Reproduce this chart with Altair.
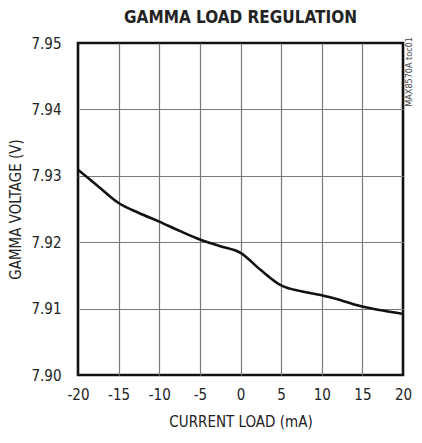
import altair as alt
import pandas as pd

current_ma = [-20, -17.5, -15, -12.5, -10, -7.5, -5, -2.5, 0, 2.5, 5, 7.5, 10, 12.5, 15, 17.5, 20]
gamma_v = [7.9309, 7.9284, 7.9259, 7.9244, 7.9231, 7.9217, 7.9204, 7.9194, 7.9184,
           7.9158, 7.9135, 7.9126, 7.9120, 7.9112, 7.9103, 7.9097, 7.9092]
x_ticks = [-20, -15, -10, -5, 0, 5, 10, 15, 20]
y_ticks = [7.90, 7.91, 7.92, 7.93, 7.94, 7.95]

FONT = "DejaVu Sans Condensed, Roboto, sans-serif"

df = pd.DataFrame({"x": current_ma, "y": gamma_v})

edge_x = "datum.value == -20 || datum.value == 20"
edge_y = "datum.value <= 7.9 || datum.value >= 7.95"

line = alt.Chart(df).mark_line(color="#111111", strokeWidth=2.6, interpolate="monotone").encode(
    x=alt.X("x:Q", scale=alt.Scale(domain=[-20, 20], nice=False),
            axis=alt.Axis(values=x_ticks, title="CURRENT LOAD (mA)", labelFontSize=15,
                          labelExpr="datum.value < 0 ? '-' + abs(datum.value) : '' + datum.value",
                          titleFontSize=15, labelFont=FONT, titleFont=FONT, titleFontWeight="normal",
                          ticks=False, domain=False, labelPadding=12, titlePadding=12,
                          labelOverlap=False, labelFlush=False,
                          labelColor="#222", titleColor="#222",
                          gridColor="#7a7a7a", gridWidth=1.2,
                          gridOpacity={"condition": {"test": edge_x, "value": 0}, "value": 1})),
    y=alt.Y("y:Q", scale=alt.Scale(domain=[7.90, 7.95], nice=False, zero=False),
            axis=alt.Axis(values=y_ticks, format=".2f", title="GAMMA VOLTAGE (V)", labelFontSize=15,
                          titleFontSize=15, labelFont=FONT, titleFont=FONT, titleFontWeight="normal",
                          ticks=False, domain=False, labelPadding=17, titlePadding=7,
                          labelOverlap=False, labelFlush=False,
                          labelColor="#222", titleColor="#222",
                          gridColor="#7a7a7a", gridWidth=1.2,
                          gridOpacity={"condition": {"test": edge_y, "value": 0}, "value": 1})),
)

note = alt.Chart(pd.DataFrame({"x": [20], "y": [7.95], "t": ["MAX8570A toc01"]})).mark_text(
    angle=270, align="right", baseline="middle", font=FONT, fontSize=9, color="#444", dx=6, dy=6
).encode(x="x:Q", y="y:Q", text="t:N")

chart = alt.layer(line, note).properties(
    width=325, height=332,
    title=alt.TitleParams("GAMMA LOAD REGULATION", font=FONT, fontSize=17, fontWeight="bold",
                          color="#222", anchor="middle", offset=9),
    autosize=alt.AutoSizeParams(type="none"),
    padding={"left": 70, "top": 35, "right": 11, "bottom": 56},
).configure_view(stroke="#111111", strokeWidth=2.6)

chart.save("out.html", embed_options={"renderer": "svg", "actions": False})
